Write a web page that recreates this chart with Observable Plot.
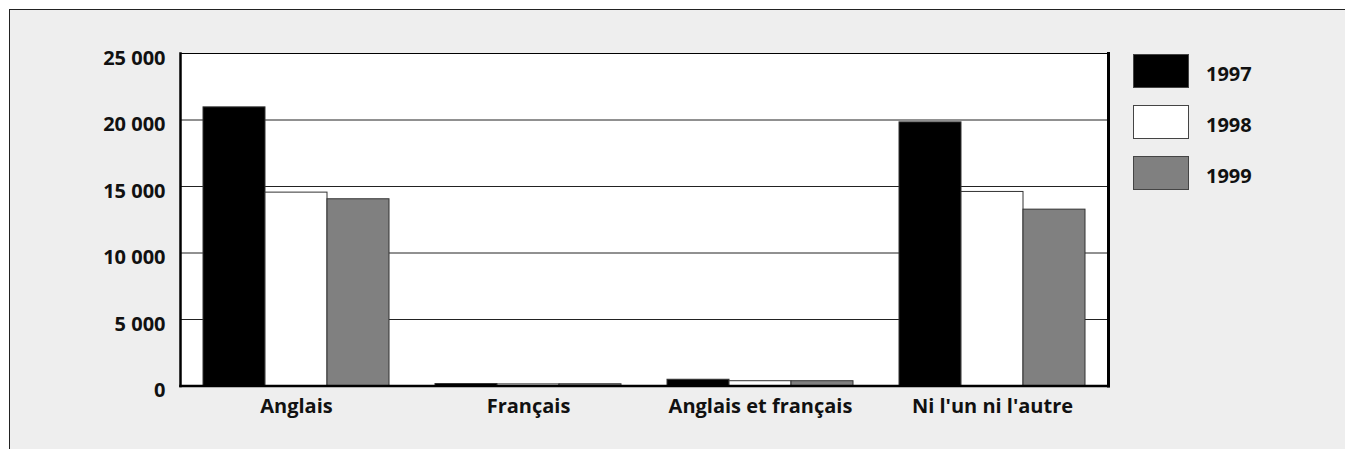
<!DOCTYPE html>
<html>
<head>
<meta charset="utf-8">
<script src="https://cdn.jsdelivr.net/npm/d3@7"></script>
<script src="https://cdn.jsdelivr.net/npm/@observablehq/plot@0.6"></script>
<style>
  html, body { margin: 0; padding: 0; background: #ffffff; }
  #page { position: relative; width: 1345px; height: 449px; overflow: hidden; font-family: "Open Sans", sans-serif; }
  #panel { position: absolute; left: 9px; top: 9px; width: 1400px; height: 500px; background: #eeeeee; border-left: 1px solid #222; border-top: 1px solid #222; }
  .layer { position: absolute; left: 0; top: 0; }
  .sw { position: absolute; left: 1133px; width: 56px; height: 34px; box-sizing: border-box; border: 1px solid #444; }
  .lab { position: absolute; left: 1206px; font-size: 20px; font-weight: 700; color: #111; line-height: 34px; height: 34px; }
</style>
</head>
<body>
<div id="page"><div id="panel"></div></div>
<script>
const categories = ["Anglais", "Français", "Anglais et français", "Ni l'un ni l'autre"];
const years = ["1997", "1998", "1999"];
const v1997 = [20950, 150, 470, 19820];
const v1998 = [14540, 120, 360, 14590];
const v1999 = [14040, 130, 360, 13260];
const yTicks = [0, 5000, 10000, 15000, 20000, 25000];
const colors = ["#000000", "#ffffff", "#808080"];

const series = [v1997, v1998, v1999];
const data = [];
categories.forEach((c, i) => years.forEach((y, j) => data.push({cat: c, year: y, value: series[j][i]})));

const fmt = d => d3.format(",")(d).replace(/,/g, " ");
const W = 1345, H = 449;
const M = {marginTop: 53, marginBottom: 63.5, marginLeft: 180, marginRight: 237};
const font = {background: "transparent", fontFamily: "'Open Sans', sans-serif", overflow: "visible"};
const page = document.getElementById("page");

function add(svg) { svg.classList.add("layer"); page.appendChild(svg); }

// Layer A: plot background, gridlines, y axis
add(Plot.plot({
  width: W, height: H, ...M,
  style: font,
  y: {domain: [0, 25000], axis: null},
  marks: [
    Plot.frame({fill: "#ffffff", stroke: null}),
    Plot.ruleY(yTicks, {stroke: "#222", strokeWidth: 1}),
    Plot.axisY({ticks: yTicks, tickFormat: fmt, tickSize: 0, tickPadding: 15, fontSize: 20, fontWeight: "bold", dy: 5, label: null, fill: "#111"})
  ]
}));

// Layer B: grouped bars and category axis
add(Plot.plot({
  width: W, height: H, ...M,
  style: font,
  fx: {domain: categories, paddingInner: 0.2, paddingOuter: 0.1, label: null},
  x: {domain: years, padding: 0, axis: null},
  y: {domain: [0, 25000], axis: null},
  color: {domain: years, range: colors},
  marks: [
    Plot.barY(data, {fx: "cat", x: "year", y: "value", fill: "year", stroke: "#333", strokeWidth: 1, inset: 0}),
    Plot.axisFx({anchor: "bottom", tickSize: 0, tickPadding: 13, fontSize: 20, fontWeight: "bold", label: null, fill: "#111"})
  ]
}));

// Layer C: plot frame on top
add(Plot.plot({
  width: W, height: H, ...M,
  style: font,
  y: {domain: [0, 25000], axis: null},
  marks: [
    Plot.frame({stroke: "#000", strokeWidth: 1}),
    Plot.frame({anchor: "left", stroke: "#000", strokeWidth: 2.5}),
    Plot.frame({anchor: "bottom", stroke: "#000", strokeWidth: 2.5}),
    Plot.frame({anchor: "right", stroke: "#000", strokeWidth: 3})
  ]
}));

// Legend
const tops = [54, 105, 156];
years.forEach((y, j) => {
  const sw = document.createElement("div");
  sw.className = "sw";
  sw.style.top = tops[j] + "px";
  sw.style.background = colors[j];
  page.appendChild(sw);
  const lb = document.createElement("div");
  lb.className = "lab";
  lb.style.top = (tops[j] + 3) + "px";
  lb.textContent = y;
  page.appendChild(lb);
});
</script>
</body>
</html>
